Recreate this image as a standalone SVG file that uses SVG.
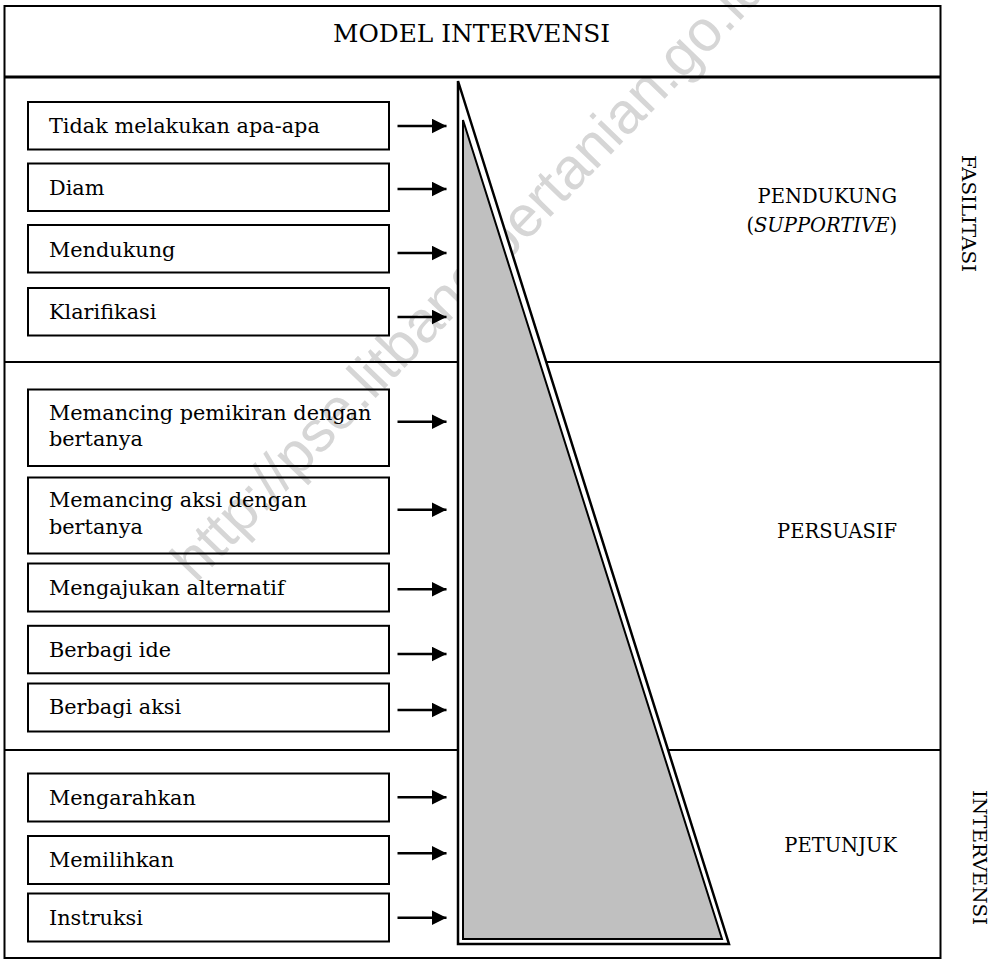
<svg xmlns="http://www.w3.org/2000/svg" width="999" height="961" viewBox="0 0 999 961">
<defs>
<marker id="ah" viewBox="0 0 15 15" refX="15" refY="7.5" markerWidth="15" markerHeight="15" markerUnits="userSpaceOnUse" orient="auto">
<path d="M0,0 L15,7.5 L0,15 z" fill="#000"/>
</marker>
<style>
.box{fill:none;stroke:#000;stroke-width:2}
.bt{font-family:"DejaVu Serif","Liberation Serif",serif;font-size:20.8px;fill:#000}
.lbl{font-family:"DejaVu Serif","Liberation Serif",serif;font-size:19.5px;fill:#000;text-anchor:end}
.vt{font-family:"DejaVu Serif","Liberation Serif",serif;font-size:19px;fill:#000}
.frame{fill:none;stroke:#000;stroke-width:2}
.div{stroke:#000;stroke-width:2}
.arr{stroke:#000;stroke-width:2.5;marker-end:url(#ah)}
.wm{font-family:"Liberation Sans",Arial,sans-serif;font-size:58px;fill:#d6d6d6}
</style>
</defs>
<rect width="999" height="961" fill="#fff"/>
<text class="wm" transform="translate(196,584) rotate(-46)">http://pse.litbang.pertanian.go.id</text>

<g id="frame">
<rect class="frame" x="4.5" y="6" width="936" height="952"/>
<line x1="4.5" y1="77" x2="940.5" y2="77" stroke="#000" stroke-width="3"/>
<line class="div" x1="4.5" y1="362" x2="940.5" y2="362"/>
<line class="div" x1="4.5" y1="750" x2="940.5" y2="750"/>
</g>

<g id="title"><text x="333" y="41.7" font-family="DejaVu Serif, Liberation Serif, serif" font-size="24" textLength="277" lengthAdjust="spacingAndGlyphs">MODEL INTERVENSI</text></g>

<g id="triangle">
<polygon points="458,81 458,944 729,944" fill="#fff" stroke="#000" stroke-width="2.5" stroke-linejoin="miter"/>
<polygon points="463,120 463,939 722,939" fill="#c0c0c0" stroke="#000" stroke-width="2"/>
</g>

<g id="n1"><rect class="box" x="28" y="102" width="361" height="47.5"/><text class="bt" x="49" y="133.3">Tidak melakukan apa-apa</text></g>
<g id="n2"><rect class="box" x="28" y="163.5" width="361" height="47.5"/><text class="bt" x="49" y="195">Diam</text></g>
<g id="n3"><rect class="box" x="28" y="225" width="361" height="47.5"/><text class="bt" x="49" y="256.7">Mendukung</text></g>
<g id="n4"><rect class="box" x="28" y="288" width="361" height="47.5"/><text class="bt" x="49" y="319.3">Klarifikasi</text></g>
<g id="n5"><rect class="box" x="28" y="389.5" width="361" height="76.5"/><text class="bt" x="49" y="420">Memancing pemikiran dengan</text><text class="bt" x="49" y="446">bertanya</text></g>
<g id="n6"><rect class="box" x="28" y="477.5" width="361" height="76"/><text class="bt" x="49" y="506.7">Memancing aksi dengan</text><text class="bt" x="49" y="534">bertanya</text></g>
<g id="n7"><rect class="box" x="28" y="563.5" width="361" height="48"/><text class="bt" x="49" y="595">Mengajukan alternatif</text></g>
<g id="n8"><rect class="box" x="28" y="625.8" width="361" height="47.5"/><text class="bt" x="49" y="656.7">Berbagi ide</text></g>
<g id="n9"><rect class="box" x="28" y="683.5" width="361" height="48"/><text class="bt" x="49" y="714">Berbagi aksi</text></g>
<g id="n10"><rect class="box" x="28" y="773.5" width="361" height="48"/><text class="bt" x="49" y="804.5">Mengarahkan</text></g>
<g id="n11"><rect class="box" x="28" y="836" width="361" height="48"/><text class="bt" x="49" y="867">Memilihkan</text></g>
<g id="n12"><rect class="box" x="28" y="893.5" width="361" height="48"/><text class="bt" x="49" y="924.5">Instruksi</text></g>

<g id="connectors">
<line class="arr" x1="397.5" y1="126" x2="446.5" y2="126"/>
<line class="arr" x1="397.5" y1="189" x2="446.5" y2="189"/>
<line class="arr" x1="397.5" y1="253" x2="446.5" y2="253"/>
<line class="arr" x1="397.5" y1="317" x2="446.5" y2="317"/>
<line class="arr" x1="397.5" y1="421.7" x2="446.5" y2="421.7"/>
<line class="arr" x1="397.5" y1="509.7" x2="446.5" y2="509.7"/>
<line class="arr" x1="397.5" y1="589.3" x2="446.5" y2="589.3"/>
<line class="arr" x1="397.5" y1="654" x2="446.5" y2="654"/>
<line class="arr" x1="397.5" y1="710" x2="446.5" y2="710"/>
<line class="arr" x1="397.5" y1="797.3" x2="446.5" y2="797.3"/>
<line class="arr" x1="397.5" y1="853.3" x2="446.5" y2="853.3"/>
<line class="arr" x1="397.5" y1="917.7" x2="446.5" y2="917.7"/>
</g>

<g id="label-pendukung"><text class="lbl" x="897" y="203.3">PENDUKUNG</text><text class="lbl" x="897" y="231.7">(<tspan font-style="italic">SUPPORTIVE</tspan>)</text></g>
<g id="label-persuasif"><text class="lbl" x="897" y="538.3">PERSUASIF</text></g>
<g id="label-petunjuk"><text class="lbl" x="897" y="851.7">PETUNJUK</text></g>

<g id="label-fasilitasi"><text class="vt" transform="translate(962,155) rotate(90)" textLength="117" lengthAdjust="spacingAndGlyphs">FASILITASI</text></g>
<g id="label-intervensi"><text class="vt" transform="translate(973,790) rotate(90)" textLength="135" lengthAdjust="spacingAndGlyphs">INTERVENSI</text></g>
</svg>
